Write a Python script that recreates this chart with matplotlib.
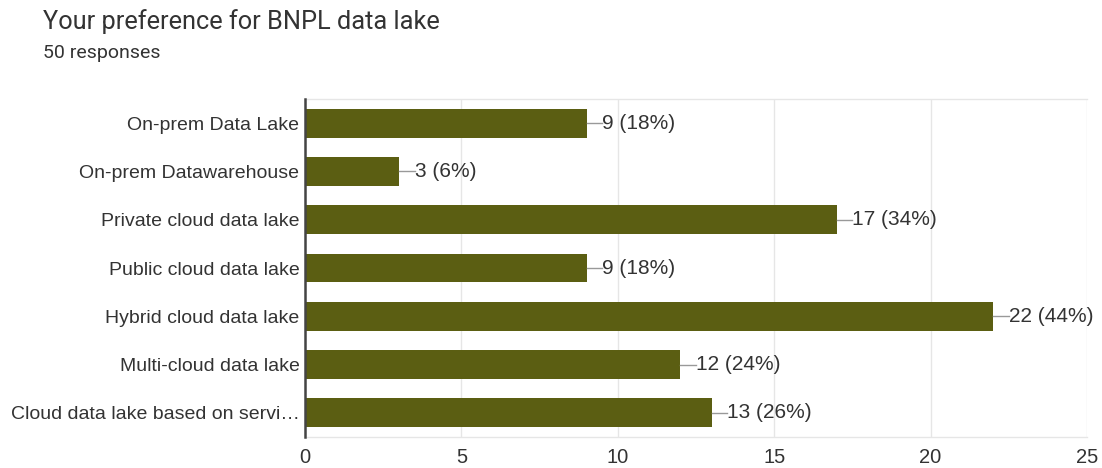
"""
Horizontal bar chart of survey responses on BNPL data lake preference.
"""

import matplotlib.pyplot as plt

categories = [
    "On-prem Data Lake",
    "On-prem Datawarehouse",
    "Private cloud data lake",
    "Public cloud data lake",
    "Hybrid cloud data lake",
    "Multi-cloud data lake",
    "Cloud data lake based on servi\u2026",
]
counts = [9, 3, 17, 9, 22, 12, 13]
total = 50
x_ticks = [0, 5, 10, 15, 20, 25]

BAR_COLOR = "#5b5e12"
TEXT_COLOR = "#333333"
GRID_COLOR = "#e6e6e6"


def draw_chart():
    fig = plt.figure(figsize=(11.02, 4.68), dpi=100)
    ax = fig.add_axes([0.2768, 0.0662, 0.7096, 0.7223])

    y = list(range(len(categories)))
    ax.barh(y, counts, height=0.6, color=BAR_COLOR, zorder=3)

    # leader line plus value label on each bar
    for yi, c in zip(y, counts):
        pct = round(c / total * 100)
        ax.plot([c, c + 0.5], [yi, yi], color="#999999", lw=1, zorder=3)
        ax.text(c + 0.5, yi, f"{c} ({pct}%)", va="center", ha="left",
                fontsize=15, color=TEXT_COLOR, family="Liberation Sans")

    ax.set_xlim(0, 25)
    ax.set_ylim(len(categories) - 0.5, -0.5)
    ax.set_xticks(x_ticks)
    ax.set_yticks(y)
    ax.set_yticklabels(categories)
    ax.tick_params(axis="both", length=0, labelcolor=TEXT_COLOR)
    ax.tick_params(axis="x", pad=8, labelsize=14.5)
    ax.tick_params(axis="y", pad=4, labelsize=14)
    for lbl in ax.get_xticklabels() + ax.get_yticklabels():
        lbl.set_family("Liberation Sans")

    ax.grid(axis="x", color=GRID_COLOR, lw=1, zorder=0)
    for side in ["top", "bottom", "right"]:
        ax.spines[side].set_color(GRID_COLOR)
        ax.spines[side].set_linewidth(1)
    ax.spines["right"].set_visible(False)
    ax.spines["left"].set_color("#444444")
    ax.spines["left"].set_linewidth(1.8)
    ax.spines["left"].set_zorder(4)

    fig.text(0.039, 0.955, "Your preference for BNPL data lake", fontsize=18.3,
             color=TEXT_COLOR, family="Roboto", va="center")
    fig.text(0.039, 0.887, "50 responses", fontsize=14, color=TEXT_COLOR,
             family="Roboto", va="center")

    fig.savefig("out.png", dpi=100)


def main():
    draw_chart()


if __name__ == "__main__":
    main()
